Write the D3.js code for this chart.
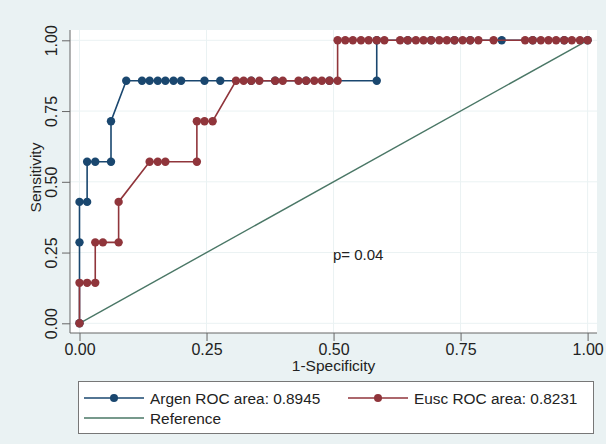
<!DOCTYPE html>
<html lang="en">
<head>
  <meta charset="UTF-8">
  <title>ROC</title>
</head>
<body>
<style>
  * {
    padding: 0;
    margin: 0;
  }

  #app {
    width: 606px;
    height: 444px;
  }

  #app svg {
    display: block;
    font-family: "Liberation Sans", Arial, sans-serif;
  }
</style>

<div id="app"></div>

<script src="https://cdn.jsdelivr.net/npm/d3@7"></script>
<script>
  // Argen ROC curve (1-specificity, sensitivity)
  var argenFpr = [0, 0, 0, 0.015, 0.015, 0.031, 0.062, 0.062, 0.092, 0.123, 0.138, 0.154, 0.169, 0.185, 0.2, 0.246, 0.277,
    0.338, 0.385, 0.446, 0.492, 0.585, 0.585, 0.646, 0.692, 0.738, 0.769, 0.831, 0.892, 0.954, 1];
  var argenSens = [0, 0.286, 0.429, 0.429, 0.571, 0.571, 0.571, 0.714, 0.857, 0.857, 0.857, 0.857, 0.857, 0.857, 0.857, 0.857, 0.857,
    0.857, 0.857, 0.857, 0.857, 0.857, 1, 1, 1, 1, 1, 1, 1, 1, 1];

  // Eusc ROC curve
  var euscFpr = [0, 0, 0.015, 0.031, 0.031, 0.046, 0.077, 0.077, 0.138, 0.154, 0.169, 0.231, 0.231, 0.246, 0.262,
    0.308, 0.323, 0.338, 0.354, 0.385, 0.4, 0.431, 0.446, 0.462, 0.477, 0.492, 0.508, 0.508,
    0.523, 0.538, 0.554, 0.569, 0.585, 0.6,
    0.631, 0.646, 0.662, 0.677, 0.692, 0.708, 0.723, 0.738, 0.754, 0.769, 0.785,
    0.815,
    0.877, 0.892, 0.908, 0.923, 0.938, 0.954, 0.969, 0.985, 1];
  var euscSens = [0, 0.143, 0.143, 0.143, 0.286, 0.286, 0.286, 0.429, 0.571, 0.571, 0.571, 0.571, 0.714, 0.714, 0.714,
    0.857, 0.857, 0.857, 0.857, 0.857, 0.857, 0.857, 0.857, 0.857, 0.857, 0.857, 0.857, 1,
    1, 1, 1, 1, 1, 1,
    1, 1, 1, 1, 1, 1, 1, 1, 1, 1, 1,
    1,
    1, 1, 1, 1, 1, 1, 1, 1, 1];

  var refLine = [[0, 0], [1, 1]];
  var ticks = [0, 0.25, 0.5, 0.75, 1];
  var legendLabels = ['Argen ROC area: 0.8945', 'Eusc ROC area: 0.8231', 'Reference'];
  var pText = 'p= 0.04';

  var colors = {argen: '#1a476f', eusc: '#90353b', ref: '#4a7766'};

  function drawRoc() {
    var svg = d3.select('#app').append('svg').attr('width', 606).attr('height', 444);

    svg.append('rect').attr('width', 606).attr('height', 444).attr('fill', '#eaf2f3');

    var x = d3.scaleLinear().domain([0, 1]).range([79.5, 587.6]);
    var y = d3.scaleLinear().domain([0, 1]).range([323.3, 40.3]);

    // plot region
    svg.append('rect').attr('x', 70).attr('y', 30).attr('width', 527).attr('height', 303).attr('fill', '#fff');

    // grid
    var grid = svg.append('g').attr('stroke', '#eaf2f3').attr('stroke-width', 1);
    ticks.forEach(function (t) {
      grid.append('line').attr('x1', x(t)).attr('x2', x(t)).attr('y1', 30).attr('y2', 333);
      grid.append('line').attr('x1', 70).attr('x2', 597).attr('y1', y(t)).attr('y2', y(t));
    });

    // axes
    var yAxis = d3.axisLeft(y).tickValues(ticks).tickFormat(d3.format('.2f')).tickSize(8).tickPadding(11);
    var gy = svg.append('g').attr('transform', 'translate(70,0)').call(yAxis);
    gy.select('.domain').attr('d', 'M0,30V333').attr('stroke', '#666');
    gy.selectAll('.tick line').attr('stroke', '#666');
    gy.selectAll('.tick text')
      .attr('font-size', 16).attr('fill', '#222')
      .attr('text-anchor', 'middle').attr('x', 0).attr('dy', 0)
      .attr('transform', 'translate(-13.5,0) rotate(-90)');

    var xAxis = d3.axisBottom(x).tickValues(ticks).tickFormat(d3.format('.2f')).tickSize(8).tickPadding(3);
    var gx = svg.append('g').attr('transform', 'translate(0,333)').call(xAxis);
    gx.select('.domain').attr('d', 'M70,0H597').attr('stroke', '#666');
    gx.selectAll('.tick line').attr('stroke', '#666');
    gx.selectAll('.tick text').attr('font-size', 16).attr('fill', '#222');

    svg.append('text').attr('x', x(0.5)).attr('y', 371).attr('text-anchor', 'middle')
      .attr('font-size', 15.5).attr('fill', '#222').text('1-Specificity');
    svg.append('text').attr('transform', 'translate(41,' + ((30 + 333) / 2 - 4) + ') rotate(-90)')
      .attr('text-anchor', 'middle').attr('font-size', 15.5).attr('fill', '#222').text('Sensitivity');

    var line = d3.line().x(function (d) { return x(d[0]); }).y(function (d) { return y(d[1]); });

    svg.append('path').attr('d', line(refLine)).attr('stroke', colors.ref).attr('stroke-width', 1.4).attr('fill', 'none');

    function series(fpr, sens, color) {
      var pts = fpr.map(function (f, i) { return [f, sens[i]]; });
      svg.append('path').attr('d', line(pts)).attr('stroke', color).attr('stroke-width', 1.6).attr('fill', 'none');
      svg.append('g').selectAll('circle').data(pts).enter().append('circle')
        .attr('cx', function (d) { return x(d[0]); })
        .attr('cy', function (d) { return y(d[1]); })
        .attr('r', 4.2).attr('fill', color);
    }
    series(argenFpr, argenSens, colors.argen);
    series(euscFpr, euscSens, colors.eusc);

    svg.append('text').attr('x', 333).attr('y', 260).attr('font-size', 15).attr('fill', '#222').text(pText);

    // legend
    var lg = svg.append('g');
    lg.append('rect').attr('x', 78.5).attr('y', 381.5).attr('width', 515).attr('height', 52)
      .attr('fill', '#fff').attr('stroke', '#777');
    var items = [
      {label: legendLabels[0], color: colors.argen, x: 84, y: 398, marker: true},
      {label: legendLabels[1], color: colors.eusc, x: 348, y: 398, marker: true},
      {label: legendLabels[2], color: colors.ref, x: 84, y: 418, marker: false}
    ];
    items.forEach(function (it) {
      lg.append('line').attr('x1', it.x).attr('x2', it.x + 60).attr('y1', it.y).attr('y2', it.y)
        .attr('stroke', it.color).attr('stroke-width', 1.6);
      if (it.marker) {
        lg.append('circle').attr('cx', it.x + 30).attr('cy', it.y).attr('r', 4).attr('fill', it.color);
      }
      lg.append('text').attr('x', it.x + 66).attr('y', it.y + 5.5).attr('font-size', 15.4).attr('fill', '#222').text(it.label);
    });
  }

  drawRoc();
</script>

</body>
</html>
